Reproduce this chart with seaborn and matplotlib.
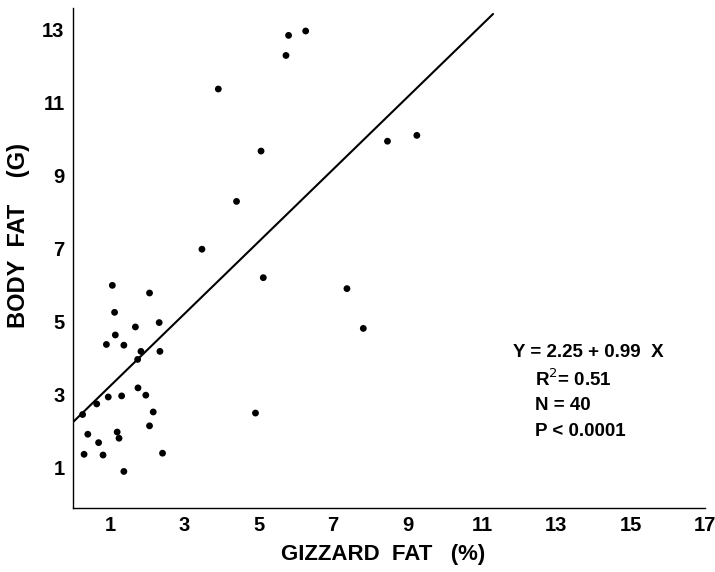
import numpy as np
import pandas as pd
import seaborn as sns
import matplotlib.pyplot as plt

sns.set_style("white")
plt.rcParams['font.family'] = ['Liberation Sans', 'DejaVu Sans']
plt.rcParams['text.color'] = 'black'
plt.rcParams['axes.labelcolor'] = 'black'
plt.rcParams['xtick.color'] = 'black'
plt.rcParams['ytick.color'] = 'black'

# gizzard fat (%) and body fat (g)
gizzard_fat = [1.06, 2.06, 1.12, 2.32, 1.68, 1.14, 0.90, 1.37, 1.83, 2.34,
               1.74, 1.75, 0.95, 1.31, 1.96, 0.64, 0.26, 2.16, 2.06, 0.40,
               1.19, 1.24, 0.69, 0.30, 0.81, 2.41, 1.37, 4.91, 5.12, 5.80,
               6.26, 5.73, 3.91, 5.06, 4.40, 3.47, 8.46, 9.25, 7.37, 7.81]
body_fat = [6.00, 5.79, 5.26, 4.98, 4.86, 4.64, 4.38, 4.36, 4.19, 4.19,
            3.97, 3.19, 2.94, 2.97, 2.99, 2.75, 2.46, 2.53, 2.15, 1.92,
            1.98, 1.81, 1.69, 1.37, 1.35, 1.40, 0.90, 2.50, 6.21, 12.85,
            12.97, 12.30, 11.38, 9.68, 8.30, 6.99, 9.95, 10.11, 5.91, 4.82]

intercept = 2.25
slope = 0.99
line_range = [0.0, 11.3]

x_ticks = [1, 3, 5, 7, 9, 11, 13, 15, 17]
y_ticks = [1, 3, 5, 7, 9, 11, 13]

stats_lines = ["Y = 2.25 + 0.99  X", "R$^{2}$= 0.51", "N = 40", "P < 0.0001"]

df = pd.DataFrame({"gizzard": gizzard_fat, "body": body_fat})
fit = pd.DataFrame({"gizzard": line_range})
fit["body"] = intercept + slope * fit["gizzard"]

narrow = ['Liberation Sans Narrow', 'Liberation Sans', 'DejaVu Sans']

fig = plt.figure(figsize=(7.15, 5.72), dpi=100)
ax = fig.add_axes([0.102, 0.112, 0.884, 0.874])

sns.lineplot(data=fit, x="gizzard", y="body", ax=ax, color="black", linewidth=1.5)
sns.scatterplot(data=df, x="gizzard", y="body", ax=ax, color="black",
                s=24, edgecolor="none")

ax.set_xlim(0, 17)
ax.set_ylim(-0.1, 13.6)
ax.set_xticks(x_ticks)
ax.set_yticks(y_ticks)
ax.tick_params(length=0, labelsize=14.5, pad=6)
for lab in ax.get_xticklabels() + ax.get_yticklabels():
    lab.set_fontweight("bold")

sns.despine(ax=ax)
for side in ["left", "bottom"]:
    ax.spines[side].set_linewidth(1.0)
    ax.spines[side].set_color("black")

ax.set_xlabel("GIZZARD  FAT   (%)", fontsize=16, fontweight="bold",
              family=narrow, labelpad=8)
ax.xaxis.set_label_coords(0.49, -0.072)
ax.set_ylabel("BODY  FAT    (G)", fontsize=17, fontweight="bold",
              family=narrow)
ax.yaxis.set_label_coords(-0.068, 0.545)

ax.text(0.696, 0.31, stats_lines[0], transform=ax.transAxes,
        fontsize=13.5, fontweight="bold", va="center")
for i, txt in enumerate(stats_lines[1:]):
    ax.text(0.731, 0.258 - i * 0.053, txt, transform=ax.transAxes,
            fontsize=13.5, fontweight="bold", va="center")

fig.savefig("out.png", dpi=100)
